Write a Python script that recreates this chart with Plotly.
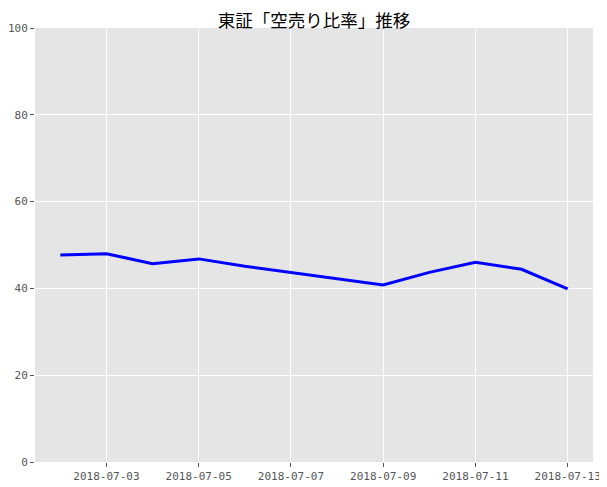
import plotly.graph_objects as go

# 東証 空売り比率 (%)
dates = ["2018-07-02", "2018-07-03", "2018-07-04", "2018-07-05", "2018-07-06",
         "2018-07-09", "2018-07-10", "2018-07-11", "2018-07-12", "2018-07-13"]
ratio = [47.7, 48.0, 45.7, 46.8, 45.1, 40.8, 43.7, 46.0, 44.4, 39.9]

y_ticks = [0, 20, 40, 60, 80, 100]

fig = go.Figure()
fig.add_trace(go.Scatter(x=dates, y=ratio, mode="lines",
                         line=dict(color="#0000FF", width=3)))

tick_font = dict(family="DejaVu Sans Mono", size=11, color="#555555")

# the page body adds an 8px offset, so the figure is 8px smaller
fig.update_layout(
    width=599, height=479,
    margin=dict(l=27, r=14, t=20, b=25, autoexpand=False),
    plot_bgcolor="#E5E5E5",
    paper_bgcolor="white",
    showlegend=False,
    title=dict(text="東証「空売り比率」推移", x=0.511, xanchor="center",
               y=0.973, yanchor="middle", automargin=False,
               font=dict(family="Noto Sans CJK JP", size=17.5, color="black")),
    xaxis=dict(range=["2018-07-01 10:48", "2018-07-13 13:12"],
               tick0="2018-07-03", dtick=2 * 86400000, tickformat="%Y-%m-%d",
               showgrid=True, gridcolor="white", gridwidth=1,
               ticks="outside", ticklen=4, tickcolor="#555555",
               tickfont=tick_font, zeroline=False, showline=False,
               automargin=False),
    yaxis=dict(range=[0, 100], tickvals=y_ticks,
               showgrid=True, gridcolor="white", gridwidth=1,
               ticks="outside", ticklen=4, tickcolor="#555555",
               tickfont=tick_font, zeroline=False, showline=False,
               automargin=False),
)

fig.write_html("out.html")
